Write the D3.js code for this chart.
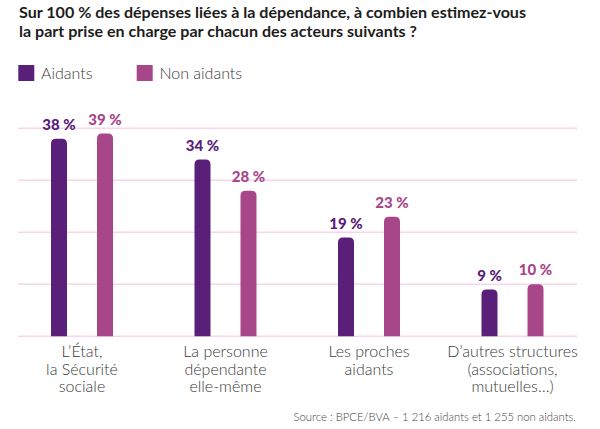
<!DOCTYPE html>
<html>
<head>
<meta charset="utf-8">
<script src="https://cdn.jsdelivr.net/npm/d3@7"></script>
<style>
  html, body { margin: 0; padding: 0; background: #fff; }
  svg { display: block; }
</style>
</head>
<body>
<svg id="chart" width="600" height="429"></svg>
<script>
// ---- Data ----
const titleLines = [
  "Sur 100 % des dépenses liées à la dépendance, à combien estimez-vous",
  "la part prise en charge par chacun des acteurs suivants ?"
];
const categories = [
  ["L’État,", "la Sécurité", "sociale"],
  ["La personne", "dépendante", "elle-même"],
  ["Les proches", "aidants"],
  ["D’autres structures", "(associations,", "mutuelles…)"]
];
const seriesNames = ["Aidants", "Non aidants"];
const aidants = [38, 34, 19, 9];
const nonAidants = [39, 28, 23, 10];
const yTicks = [0, 10, 20, 30, 40];
const sourceText = "Source : BPCE/BVA – 1 216 aidants et 1 255 non aidants.";

// ---- Styles ----
const colors = { "Aidants": "#5a2079", "Non aidants": "#a8468a" };
const gridColor = "#f7d6ea";
const textFont = "Lato, 'Open Sans', 'Noto Sans', sans-serif";

const svg = d3.select("#chart");
const catKeys = categories.map((c, i) => "c" + i);
const seriesData = [aidants, nonAidants];

const x = d3.scaleBand().domain(catKeys).range([10.25, 584.25]).padding(0);
const xSub = d3.scalePoint().domain(seriesNames).range([-23, 23]);
const y = d3.scaleLinear().domain([0, 40]).range([336.3, 128.3]);
const barW = 16, r = 5;

// Title
svg.append("g").selectAll("text").data(titleLines).join("text")
  .attr("x", 19)
  .attr("y", (d, i) => 17.8 + i * 18.8)
  .attr("textLength", (d, i) => i === 0 ? 507 : 398)
  .attr("lengthAdjust", "spacingAndGlyphs")
  .attr("font-family", textFont)
  .attr("font-weight", 700)
  .attr("font-size", 15.5)
  .attr("fill", "#1d1d1b")
  .text(d => d);

// Legend
const legendX = [18.3, 136.7];
const lg = svg.append("g").selectAll("g").data(seriesNames).join("g")
  .attr("transform", (d, i) => `translate(${legendX[i]},65)`);
lg.append("rect").attr("width", 16).attr("height", 16).attr("fill", d => colors[d]);
lg.append("text").attr("x", 22.7).attr("y", 14)
  .attr("font-family", textFont).attr("font-weight", 300).attr("font-size", 16)
  .attr("fill", "#3a3a3a").text(d => d);

// Gridlines
svg.append("g").selectAll("line").data(yTicks).join("line")
  .attr("x1", 18).attr("x2", 577)
  .attr("y1", d => y(d)).attr("y2", d => y(d))
  .attr("stroke", gridColor).attr("stroke-width", 1.5);

// Bars
function topRounded(x0, y0, w, h, rr) {
  rr = Math.min(rr, h, w / 2);
  return `M${x0},${y0 + h}V${y0 + rr}Q${x0},${y0} ${x0 + rr},${y0}H${x0 + w - rr}Q${x0 + w},${y0} ${x0 + w},${y0 + rr}V${y0 + h}Z`;
}
const barData = [];
seriesNames.forEach((s, si) => {
  seriesData[si].forEach((v, ci) => barData.push({ s, v, c: catKeys[ci] }));
});
const cx = d => x(d.c) + x.bandwidth() / 2 + xSub(d.s);

svg.append("g").selectAll("path").data(barData).join("path")
  .attr("d", d => topRounded(cx(d) - barW / 2, y(d.v), barW, y(0) - y(d.v), r))
  .attr("fill", d => colors[d.s]);

// Value labels
svg.append("g").selectAll("text").data(barData).join("text")
  .attr("x", d => cx(d))
  .attr("y", d => y(d.v) - 9)
  .attr("text-anchor", "middle")
  .attr("font-family", textFont).attr("font-weight", 900).attr("font-size", 15)
  .attr("fill", d => colors[d.s])
  .text(d => d.v + "\u00a0%");

// Category labels
const cl = svg.append("g").selectAll("text").data(categories).join("text")
  .attr("x", (d, i) => x(catKeys[i]) + x.bandwidth() / 2)
  .attr("y", 356.7)
  .attr("text-anchor", "middle")
  .attr("font-family", textFont).attr("font-weight", 300).attr("font-size", 16)
  .attr("fill", "#3a3a3a");
cl.selectAll("tspan").data(d => d).join("tspan")
  .attr("x", function () { return d3.select(this.parentNode).attr("x"); })
  .attr("dy", (d, i) => i === 0 ? 0 : 17.8)
  .text(d => d);

// Source
svg.append("text")
  .attr("x", 576).attr("y", 421)
  .attr("text-anchor", "end")
  .attr("font-family", textFont).attr("font-weight", 300).attr("font-size", 11.3)
  .attr("fill", "#444")
  .text(sourceText);
</script>
</body>
</html>
